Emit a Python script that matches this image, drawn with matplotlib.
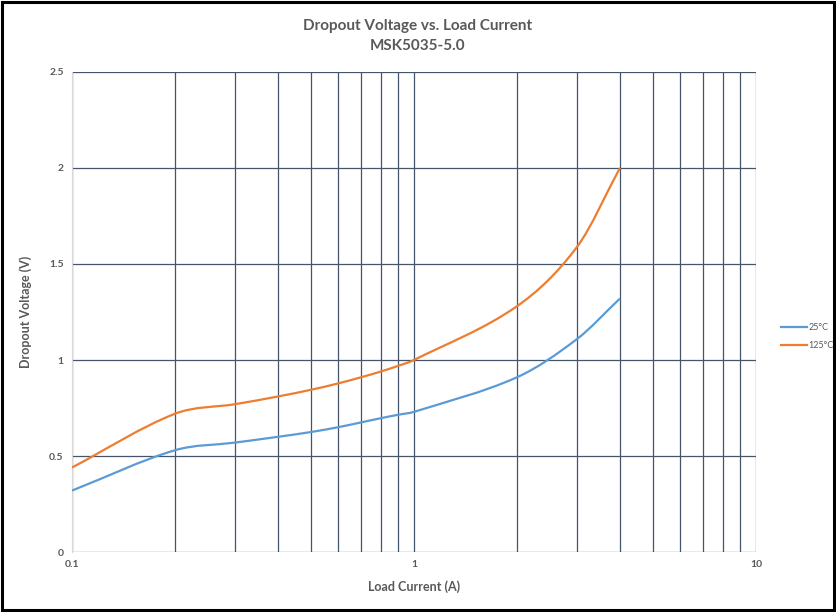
import numpy as np
import matplotlib.pyplot as plt
from matplotlib.path import Path
from matplotlib.patches import PathPatch, Rectangle
from matplotlib.lines import Line2D

plt.rcParams['font.family'] = ['Lato', 'DejaVu Sans']

# Load current (A) and dropout voltage (V)
corriente = [0.1, 0.2, 0.3, 0.4, 0.5, 0.6, 0.7, 0.8, 0.9, 1.0, 2.0, 3.0, 4.0]
v_25 = [0.32, 0.53, 0.57, 0.60, 0.625, 0.65, 0.675, 0.697, 0.715, 0.73, 0.91, 1.11, 1.32]
v_125 = [0.44, 0.72, 0.77, 0.81, 0.845, 0.878, 0.91, 0.94, 0.97, 1.0, 1.28, 1.59, 2.0]

series = ['25°C', '125°C']
colores = ['#5b9bd5', '#ed7d31']
gris = '#595959'


def curva_suave(x, y):
    # Hermite segments in log(x) space with finite-difference slopes,
    # written as cubic Bezier curves
    lx = np.log10(x)
    y = np.asarray(y, float)
    n = len(lx)
    m = np.empty(n)
    m[0] = (y[1] - y[0]) / (lx[1] - lx[0])
    m[-1] = (y[-1] - y[-2]) / (lx[-1] - lx[-2])
    for i in range(1, n - 1):
        m[i] = (y[i + 1] - y[i - 1]) / (lx[i + 1] - lx[i - 1])
    verts = [(x[0], y[0])]
    codes = [Path.MOVETO]
    for i in range(n - 1):
        h = (lx[i + 1] - lx[i]) / 3
        verts += [(10 ** (lx[i] + h), y[i] + m[i] * h),
                  (10 ** (lx[i + 1] - h), y[i + 1] - m[i + 1] * h),
                  (x[i + 1], y[i + 1])]
        codes += [Path.CURVE4] * 3
    return Path(verts, codes)


fig = plt.figure(figsize=(8.36, 6.12), dpi=100)
ax = fig.add_axes([0.0861, 0.098, 0.8182, 0.7844])

for y, c in zip([v_25, v_125], colores):
    ax.add_patch(PathPatch(curva_suave(corriente, y), fill=False,
                           edgecolor=c, lw=1.6, zorder=3))

ax.set_xscale('log')
ax.set_xlim(0.1, 10)
ax.set_ylim(0, 2.5)
ax.set_yticks([0, 0.5, 1, 1.5, 2, 2.5])
ax.set_yticklabels(['0', '0.5', '1', '1.5', '2', '2.5'], fontweight='bold')
ax.set_xticks([0.1, 1, 10])
ax.set_xticklabels(['0.1', '1', '10'], fontweight='bold')
ax.set_xticks([k * d for d in (0.1, 1) for k in range(2, 10)], minor=True)
ax.xaxis.set_minor_formatter(plt.NullFormatter())
ax.tick_params(which='both', length=0)
ax.tick_params(axis='both', labelsize=7.5, labelcolor=gris, pad=6)

ax.grid(True, which='both', color='#44546a', lw=0.9)
ax.set_axisbelow(True)
for s in ax.spines.values():
    s.set_visible(False)
ax.spines['left'].set_visible(True)
ax.spines['left'].set_color('#d9d9d9')

ax.set_xlabel('Load Current (A)', fontsize=9, fontweight='bold', color=gris, labelpad=8)
ax.set_ylabel('Dropout Voltage (V)', fontsize=9, fontweight='bold', color=gris, labelpad=12)

fig.text(0.5, 0.958, 'Dropout Voltage vs. Load Current', ha='center', va='center',
         fontsize=11, fontweight='bold', color=gris)
fig.text(0.5, 0.925, 'MSK5035-5.0', ha='center', va='center',
         fontsize=11, fontweight='bold', color=gris)

handles = [Line2D([], [], color=c, lw=1.6) for c in colores]
fig.legend(handles, series, loc='center left', bbox_to_anchor=(0.925, 0.45),
           frameon=False, fontsize=6.5, handlelength=2.8, handletextpad=0.2,
           labelcolor=gris, labelspacing=1.0)

fig.add_artist(Rectangle((0.002, 0.003), 0.996, 0.994, transform=fig.transFigure,
                         fill=False, edgecolor='black', lw=2.2))

fig.savefig('out.png', dpi=100)
